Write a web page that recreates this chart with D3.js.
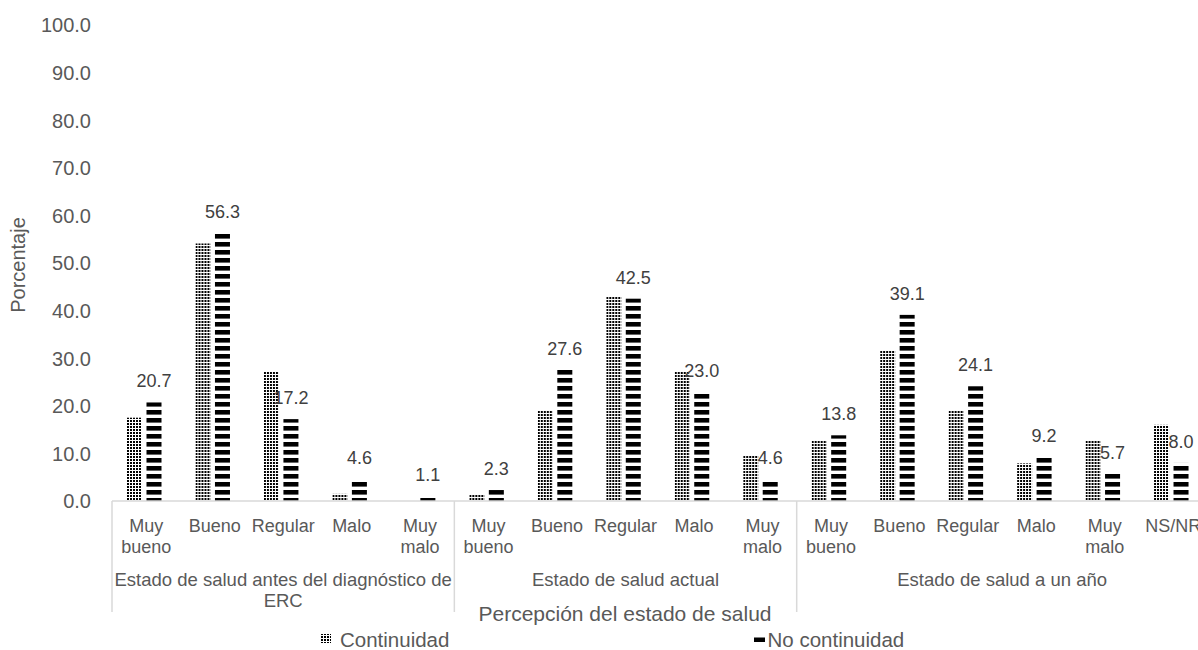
<!DOCTYPE html>
<html>
<head>
<meta charset="utf-8">
<script src="https://cdn.jsdelivr.net/npm/d3@7/dist/d3.min.js"></script>
<style>
  body { margin: 0; background: #ffffff; }
  svg { display: block; font-family: "Liberation Sans", Arial, sans-serif; }
</style>
</head>
<body>
<svg id="chart" width="1198" height="650"></svg>
<script>
// Survey data: perceived health status, percentages per group
const groupNames = [
  "Estado de salud antes del diagnóstico de ERC",
  "Estado de salud actual",
  "Estado de salud a un año"
];
const categoryLabels = [
  "Muy bueno", "Bueno", "Regular", "Malo", "Muy malo",
  "Muy bueno", "Bueno", "Regular", "Malo", "Muy malo",
  "Muy bueno", "Bueno", "Regular", "Malo", "Muy malo", "NS/NR"
];
const categoryGroup = [0, 0, 0, 0, 0, 1, 1, 1, 1, 1, 2, 2, 2, 2, 2, 2];
const seriesNames = ["Continuidad", "No continuidad"];
const continuidad = [17.5, 54.1, 27.1, 1.5, 0.0, 1.4, 19.1, 42.9, 27.1, 9.5, 12.8, 31.7, 19.1, 7.9, 12.8, 16.0];
const noContinuidad = [20.7, 56.3, 17.2, 4.6, 1.1, 2.3, 27.6, 42.5, 23.0, 4.6, 13.8, 39.1, 24.1, 9.2, 5.7, 8.0];
const yTickValues = [0, 10, 20, 30, 40, 50, 60, 70, 80, 90, 100];
const yTitle = "Porcentaje";
const xTitle = "Percepción del estado de salud";

const svg = d3.select("#chart");
const textColor = "#595959";
const lineColor = "#d9d9d9";

const plot = { left: 112, right: 1207.5, top: 25, bottom: 501 };

const catIds = categoryLabels.map((d, i) => String(i));
const x0 = d3.scaleBand().domain(catIds).range([plot.left, plot.right]).paddingInner(0).paddingOuter(0);
const x1 = d3.scaleBand().domain(seriesNames).range([15, 49.5]).paddingInner(0.23).paddingOuter(0);
const y = d3.scaleLinear().domain([0, 100]).range([plot.bottom, plot.top]);

// Fill patterns
const defs = svg.append("defs");
const dots = defs.append("pattern")
  .attr("id", "pat-dots").attr("patternUnits", "userSpaceOnUse")
  .attr("width", 3).attr("height", 3);
dots.append("rect").attr("width", 3).attr("height", 3).attr("fill", "#fff");
dots.append("rect").attr("x", 0).attr("y", 0).attr("width", 2).attr("height", 1.6)
  .attr("fill", "#000").attr("shape-rendering", "crispEdges");

const stripes = defs.append("pattern")
  .attr("id", "pat-stripes").attr("patternUnits", "userSpaceOnUse")
  .attr("width", 8).attr("height", 8).attr("y", plot.bottom - 3);
stripes.append("rect").attr("width", 8).attr("height", 8).attr("fill", "#fff");
stripes.append("rect").attr("y", 0).attr("width", 8).attr("height", 4.6).attr("fill", "#000");

const fills = { "Continuidad": "url(#pat-dots)", "No continuidad": "url(#pat-stripes)" };
const values = { "Continuidad": continuidad, "No continuidad": noContinuidad };

// Y axis (labels only)
const yAxis = d3.axisLeft(y).tickValues(yTickValues).tickFormat(d3.format(".1f")).tickSize(0).tickPadding(21);
const gy = svg.append("g").attr("transform", `translate(${plot.left},0)`).call(yAxis);
gy.select(".domain").remove();
gy.selectAll("text").attr("fill", textColor).style("font-size", "20px")
  .style("font-family", "'Liberation Sans', Arial, sans-serif").attr("dy", "0.34em");

// Bars
const catG = svg.append("g").selectAll("g").data(catIds).join("g")
  .attr("transform", d => `translate(${x0(d)},0)`);

catG.selectAll("rect").data(d => seriesNames.map(s => ({ s, v: values[s][+d] }))).join("rect")
  .attr("x", d => x1(d.s))
  .attr("width", x1.bandwidth())
  .attr("y", d => y(d.v))
  .attr("height", d => y(0) - y(d.v))
  .attr("fill", d => fills[d.s]);

// Value labels on the "No continuidad" series
catG.append("text")
  .attr("x", x1("No continuidad") + x1.bandwidth() / 2)
  .attr("y", d => y(noContinuidad[+d]) - 15)
  .attr("text-anchor", "middle")
  .attr("fill", "#404040")
  .style("font-size", "18px")
  .text(d => d3.format(".1f")(noContinuidad[+d]));

// X axis baseline
svg.append("line")
  .attr("x1", plot.left).attr("x2", plot.right)
  .attr("y1", plot.bottom).attr("y2", plot.bottom)
  .attr("stroke", lineColor).attr("stroke-width", 1.5);

// Group dividers
const groupIdx = d3.range(groupNames.length);
const groupStart = g => x0(String(categoryGroup.indexOf(g)));
const groupEnd = g => x0(String(categoryGroup.lastIndexOf(g))) + x0.bandwidth();
const dividerX = [groupStart(0)].concat(groupIdx.map(groupEnd));
svg.append("g").selectAll("line").data(dividerX).join("line")
  .attr("x1", d => d).attr("x2", d => d)
  .attr("y1", plot.bottom).attr("y2", 612)
  .attr("stroke", lineColor).attr("stroke-width", 1.5);

// Word wrapping for axis labels
function wrapLines(text, width, fontSize) {
  const probe = svg.append("text").style("font-size", fontSize + "px");
  const words = text.split(" ");
  const lines = [];
  let line = [];
  words.forEach(w => {
    const trial = line.concat([w]).join(" ");
    probe.text(trial);
    if (line.length && probe.node().getComputedTextLength() > width) {
      lines.push(line.join(" "));
      line = [w];
    } else {
      line.push(w);
    }
  });
  if (line.length) lines.push(line.join(" "));
  probe.remove();
  return lines;
}

// Category labels
const catLabelG = svg.append("g").attr("fill", textColor).style("font-size", "18px");
catIds.forEach((id, i) => {
  const lines = wrapLines(categoryLabels[i], x0.bandwidth() - 2, 18);
  const t = catLabelG.append("text")
    .attr("text-anchor", "middle")
    .attr("x", x0(id) + x0.bandwidth() / 2)
    .attr("y", 532);
  lines.forEach((l, k) => t.append("tspan")
    .attr("x", x0(id) + x0.bandwidth() / 2)
    .attr("dy", k === 0 ? 0 : 20.5)
    .text(l));
});

// Group labels
const groupLabelG = svg.append("g").attr("fill", textColor).style("font-size", "18.5px");
groupIdx.forEach(g => {
  const cx = (groupStart(g) + groupEnd(g)) / 2;
  const lines = wrapLines(groupNames[g], groupEnd(g) - groupStart(g) - 2, 18.5);
  const t = groupLabelG.append("text").attr("text-anchor", "middle").attr("y", 586);
  lines.forEach((l, k) => t.append("tspan").attr("x", cx).attr("dy", k === 0 ? 0 : 21).text(l));
});

// Axis titles
svg.append("text")
  .attr("x", 625).attr("y", 621)
  .attr("text-anchor", "middle")
  .attr("fill", textColor)
  .style("font-size", "21px")
  .text(xTitle);

svg.append("text")
  .attr("transform", "translate(25,265) rotate(-90)")
  .attr("text-anchor", "middle")
  .attr("fill", textColor)
  .style("font-size", "20px")
  .text(yTitle);

// Legend
const legendX = [321, 754];
const legend = svg.append("g").selectAll("g").data(seriesNames).join("g")
  .attr("transform", (d, i) => `translate(${legendX[i]},0)`);
legend.append("rect")
  .attr("x", 0)
  .attr("y", (d, i) => i === 0 ? 634 : 637.5)
  .attr("width", (d, i) => i === 0 ? 10 : 11)
  .attr("height", (d, i) => i === 0 ? 9 : 4.5)
  .attr("fill", (d, i) => i === 0 ? "url(#pat-dots)" : "#000");
legend.append("text")
  .attr("x", (d, i) => i === 0 ? 19 : 13.5)
  .attr("y", 647)
  .attr("fill", textColor)
  .style("font-size", "20.5px")
  .text(d => d);
</script>
</body>
</html>
